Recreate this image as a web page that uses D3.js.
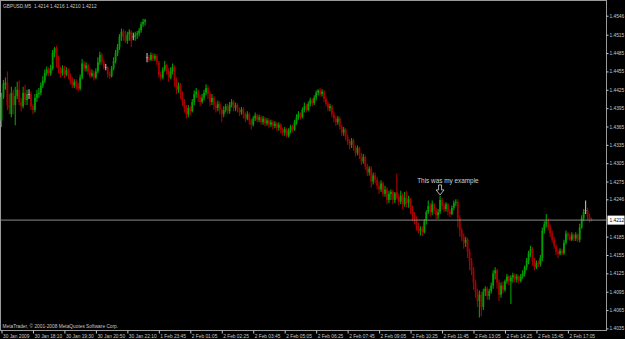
<!DOCTYPE html>
<html>
<head>
<meta charset="utf-8">
<script src="https://cdn.jsdelivr.net/npm/d3@7"></script>
<style>
html, body { margin: 0; padding: 0; background: #000; overflow: hidden; }
</style>
</head>
<body>
<div id="chart"></div>
<script>
'use strict';

// prices are kept as pips above BASE
var BASE = 1.4, PIP = 0.0001;

var opens = [
    375,413,433,437,400,385,420,400,415,425,
    405,398,420,408,418,418,398,392,412,418,
    420,432,440,452,458,452,460,485,493,470,
    458,452,460,450,457,448,440,432,438,430,
    427,445,468,460,465,455,448,452,445,455,
    470,482,470,462,462,450,447,460,472,485,
    495,512,520,512,505,515,520,512,512,515,
    517,522,532,536,478,478,474,482,476,480,
    470,450,445,458,465,455,445,455,462,440,
    425,432,418,405,395,385,395,390,405,418,
    422,412,405,412,420,428,418,405,412,400,
    395,402,392,385,392,398,390,400,405,395,
    400,392,388,393,385,378,385,375,368,378,
    383,376,380,372,378,370,375,368,372,366,
    370,363,368,360,355,360,350,358,365,360,
    372,380,385,380,392,398,392,402,408,403,
    412,420,424,418,422,410,402,395,398,385,
    378,372,378,365,355,360,348,340,335,342,
    330,322,330,318,308,315,300,290,296,275,
    285,278,268,262,272,255,262,245,255,258,
    245,258,250,242,252,238,248,240,246,230,
    220,214,202,195,198,192,210,225,235,225,
    238,228,220,225,245,235,230,238,226,222,
    232,240,242,215,195,185,175,180,160,145,
    130,110,95,80,90,70,95,100,88,96,
    105,125,130,110,90,105,98,112,120,112,
    118,122,115,120,113,120,125,135,145,158,
    165,145,135,142,140,150,195,205,210,200,
    190,180,170,160,157,162,158,175,190,185,
    180,188,182,188,180,200,215,228,228,218,
    214
];

var highs = [
    420,441,445,455,418,430,425,430,438,440,
    412,430,433,425,426,422,402,418,425,428,
    437,447,458,463,462,466,490,495,497,480,
    463,465,464,462,460,452,446,442,442,436,
    450,475,472,470,468,460,458,456,460,478,
    487,485,474,467,463,455,464,478,490,500,
    516,525,524,522,520,524,522,518,520,521,
    526,536,541,541,485,482,486,485,484,483,
    472,455,462,472,468,460,462,468,465,445,
    437,436,422,410,400,400,398,410,424,428,
    425,416,418,425,434,432,422,418,415,405,
    407,406,395,398,402,402,405,410,408,404,
    403,396,397,396,388,390,388,378,382,388,
    386,384,383,382,381,379,378,376,375,374,
    372,372,370,363,364,362,362,368,368,376,
    385,390,388,396,404,402,406,412,411,416,
    424,426,428,426,425,414,406,402,400,390,
    382,382,381,368,364,362,352,344,346,345,
    334,334,332,322,320,318,304,300,300,290,
    290,282,275,277,275,268,266,260,262,261,
    258,288,256,260,256,258,260,252,248,236,
    225,218,208,202,202,214,228,244,240,244,
    240,232,230,252,248,240,241,240,230,236,
    244,246,246,220,200,190,185,183,165,150,
    135,115,100,97,95,100,104,103,100,110,
    130,135,132,115,110,112,115,124,122,122,
    126,125,124,122,124,130,138,150,162,170,
    168,150,146,146,155,200,210,222,215,205,
    195,185,172,164,166,165,180,195,193,190,
    192,190,192,190,206,220,230,244,232,222,
    216
];

var lows = [
    364,410,425,392,385,380,385,367,410,400,
    390,395,400,400,410,392,385,388,405,412,
    416,428,436,448,447,448,457,478,462,452,
    445,448,444,447,442,434,428,428,425,422,
    424,442,455,455,450,444,445,440,442,452,
    466,465,458,457,445,443,445,457,468,480,
    490,505,505,502,500,505,495,506,505,508,
    512,518,528,530,470,470,472,472,472,466,
    445,440,442,455,450,438,442,450,430,418,
    420,410,398,388,378,380,383,388,400,412,
    405,398,402,408,416,410,398,400,392,388,
    390,385,372,380,388,385,386,396,390,390,
    388,382,384,378,372,375,368,360,365,374,
    372,372,368,368,365,366,362,364,360,362,
    358,358,354,350,350,347,347,354,355,358,
    368,376,376,378,388,388,390,398,398,400,
    408,416,414,414,405,398,390,390,380,372,
    366,368,360,350,350,342,335,328,330,325,
    316,318,312,302,304,294,284,285,265,270,
    272,262,255,258,250,250,238,240,245,238,
    240,246,236,238,230,234,233,232,222,210,
    205,195,190,187,186,190,205,222,218,220,
    222,214,214,222,228,225,226,220,217,220,
    228,235,200,185,178,165,168,150,130,122,
    98,85,70,53,55,65,88,82,82,92,
    100,115,100,80,85,92,95,108,105,75,
    110,110,110,108,110,116,120,130,140,152,
    138,130,132,135,136,145,190,200,195,184,
    175,165,155,150,154,155,155,172,180,178,
    178,178,178,176,176,198,210,222,212,208,
    210
];

var closes = [
    413,435,437,400,395,420,400,415,425,405,
    398,420,408,418,418,398,392,412,418,420,
    432,440,452,458,452,460,485,493,470,458,
    452,460,450,457,448,440,432,438,430,427,
    445,468,460,465,455,448,452,445,455,470,
    482,470,462,462,450,447,460,472,485,495,
    512,520,512,505,515,520,505,512,515,517,
    522,532,536,539,478,474,482,476,480,470,
    450,445,458,465,455,445,455,462,440,425,
    432,418,405,395,385,395,390,405,418,422,
    412,405,412,420,428,418,405,412,400,395,
    402,392,385,392,398,390,400,405,395,400,
    392,388,393,385,378,385,375,368,378,383,
    376,380,372,378,370,375,368,372,366,370,
    363,368,360,355,360,350,358,365,360,372,
    380,385,380,392,398,392,402,408,403,412,
    420,424,418,422,410,402,395,398,385,378,
    372,378,365,355,360,348,340,335,342,330,
    322,330,318,308,315,300,290,296,275,285,
    278,268,262,272,255,262,245,255,258,245,
    256,250,242,252,238,248,240,246,230,220,
    214,202,195,198,192,210,225,235,225,238,
    228,220,225,245,235,230,238,226,222,232,
    240,242,215,195,185,175,180,160,145,130,
    110,95,80,90,70,95,100,88,96,105,
    125,130,110,90,105,98,112,120,112,118,
    122,115,120,113,120,125,135,145,158,165,
    145,135,142,140,150,195,205,210,200,190,
    180,170,160,157,162,158,175,190,185,180,
    188,182,188,180,200,215,225,228,218,214,
    212
];

var priceTicks = [1.4546, 1.4515, 1.4485, 1.4455, 1.4425, 1.4395, 1.4365, 1.4335, 1.4305,
    1.4275, 1.4246, 1.4185, 1.4155, 1.4125, 1.4095, 1.4065, 1.4035];

var timeTickBars = [0, 16, 32, 48, 64, 80, 96, 112, 128, 144, 160, 176, 192, 208, 224, 240, 256, 272, 288];
var timeTickLabels = ["30 Jan 2009", "30 Jan 18:10", "30 Jan 19:30", "30 Jan 20:50", "30 Jan 22:10",
    "1 Feb 23:45", "2 Feb 01:05", "2 Feb 02:25", "2 Feb 03:45", "2 Feb 05:05", "2 Feb 06:25",
    "2 Feb 07:45", "2 Feb 09:05", "2 Feb 10:25", "2 Feb 11:45", "2 Feb 13:05", "2 Feb 14:25",
    "2 Feb 15:45", "2 Feb 17:05"];

var lastPrice = 1.4212;
var titleText = "GBPUSD,M5  1.4214 1.4216 1.4210 1.4212";
var copyText = "MetaTrader, \u00a9 2001-2008 MetaQuotes Software Corp.";
var noteText = "This was my example", noteBar = 227, notePrice = 1.42725;
var arrowBar = 223, arrowPrice = 1.42695;

var W = 625, H = 339,
    PLOT_RIGHT = 606.5,
    PLOT_BOTTOM = 330.5,
    FG = "#c8c8c8",
    BULL = "#00a000",
    BEAR = "#a80000",
    DOJI = "#b8b8b8",
    FONT = "'Liberation Sans', Arial, sans-serif";

var svg = d3.select("#chart").append("svg")
    .attr("width", W)
    .attr("height", H)
    .style("background", "#000")
    .style("display", "block");

var x = d3.scaleLinear().domain([0, 300]).range([1.5, 591.5]);
var y = d3.scaleLinear().domain([1.40316, 1.45717]).range([PLOT_BOTTOM, 0]);

function price(p) { return BASE + p * PIP; }

var bars = d3.range(closes.length).map(function (i) {
    return {i: i, o: price(opens[i]), h: price(highs[i]), l: price(lows[i]), c: price(closes[i])};
});

function colorOf(d) {
    if (d.c > d.o) return BULL;
    if (d.c < d.o) return BEAR;
    return DOJI;
}

// frame
svg.append("rect")
    .attr("x", 0.5).attr("y", 0.5)
    .attr("width", PLOT_RIGHT - 0.5).attr("height", PLOT_BOTTOM - 0.5)
    .attr("fill", "none").attr("stroke", "#9a9a9a");

// candles
var cg = svg.append("g").attr("id", "candles");
cg.selectAll("line").data(bars).enter().append("line")
    .attr("x1", function (d) { return x(d.i); })
    .attr("x2", function (d) { return x(d.i); })
    .attr("y1", function (d) { return y(d.h); })
    .attr("y2", function (d) { return y(d.l); })
    .attr("stroke", colorOf)
    .attr("stroke-width", 1.1);
cg.selectAll("rect").data(bars).enter().append("rect")
    .attr("x", function (d) { return x(d.i) - 0.9; })
    .attr("width", 1.8)
    .attr("y", function (d) { return y(Math.max(d.o, d.c)); })
    .attr("height", function (d) { return Math.max(0.8, Math.abs(y(d.o) - y(d.c))); })
    .attr("fill", colorOf);

// last price line
svg.append("line")
    .attr("x1", 1).attr("x2", PLOT_RIGHT)
    .attr("y1", y(lastPrice)).attr("y2", y(lastPrice))
    .attr("stroke", "#8c8c8c").attr("stroke-width", 1);

// price axis
var yAxis = svg.append("g")
    .attr("transform", "translate(" + PLOT_RIGHT + ",0)")
    .call(d3.axisRight(y).tickValues(priceTicks).tickSize(2).tickSizeOuter(0).tickPadding(1)
        .tickFormat(d3.format(".4f")));
yAxis.select(".domain").remove();
yAxis.selectAll("line").attr("stroke", FG);
yAxis.selectAll("text").attr("fill", FG).style("font", "4.8px " + FONT);

// time axis
var xAxis = svg.append("g")
    .attr("transform", "translate(0," + PLOT_BOTTOM + ")")
    .call(d3.axisBottom(x).tickValues(timeTickBars).tickSize(3).tickSizeOuter(0).tickPadding(1)
        .tickFormat(function (d, k) { return timeTickLabels[k]; }));
xAxis.select(".domain").remove();
xAxis.selectAll("line").attr("stroke", FG);
xAxis.selectAll("text").attr("fill", FG).attr("text-anchor", "start").attr("dx", 1)
    .style("font", "4.8px " + FONT);

// last price box
var by = y(lastPrice);
svg.append("rect")
    .attr("x", PLOT_RIGHT + 1).attr("y", by - 4.5)
    .attr("width", W - PLOT_RIGHT - 1.5).attr("height", 9)
    .attr("fill", "#fff");
svg.append("text")
    .attr("x", PLOT_RIGHT + 3).attr("y", by + 1.8)
    .attr("fill", "#000").style("font", "4.8px " + FONT)
    .text(d3.format(".4f")(lastPrice));

// title and copyright
svg.append("text").attr("x", 3).attr("y", 8)
    .attr("fill", FG).style("font", "4.8px " + FONT).style("white-space", "pre")
    .attr("xml:space", "preserve")
    .text(titleText);
svg.append("text").attr("x", 2.5).attr("y", 327.5)
    .attr("fill", FG).style("font", "4.8px " + FONT)
    .text(copyText);

// annotation
svg.append("text")
    .attr("x", x(noteBar)).attr("y", y(notePrice))
    .attr("text-anchor", "middle")
    .attr("fill", "#d0d0d0").style("font", "6.4px " + FONT)
    .text(noteText);
var ax = x(arrowBar), ay = y(arrowPrice);
svg.append("polygon")
    .attr("points", [[ax - 1.5, ay], [ax + 1.5, ay], [ax + 1.5, ay + 5], [ax + 4, ay + 5],
        [ax, ay + 10], [ax - 4, ay + 5], [ax - 1.5, ay + 5]].join(" "))
    .attr("fill", "none").attr("stroke", "#d8d8d8").attr("stroke-width", 0.8);
</script>
</body>
</html>
